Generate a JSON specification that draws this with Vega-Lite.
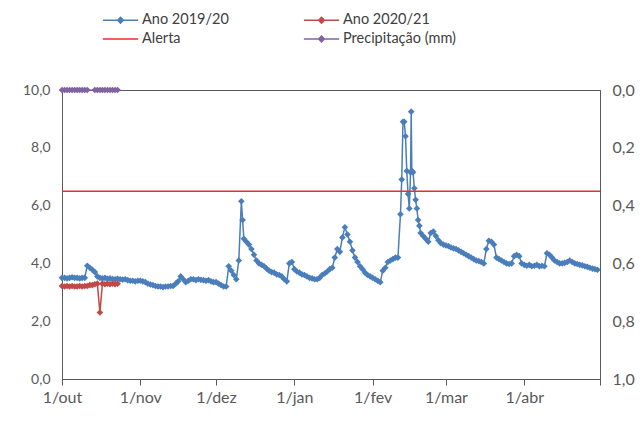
{
  "$schema": "https://vega.github.io/schema/vega-lite/v6.json",
  "width": 538,
  "height": 289,
  "autosize": "none",
  "padding": {"left": 62, "top": 90, "right": 44, "bottom": 48},
  "background": "white",
  "data": {"values": [
    {"d":"2019-10-01","v":3.50,"s":"Ano 2019/20"},{"d":"2019-10-02","v":3.50,"s":"Ano 2019/20"},{"d":"2019-10-03","v":3.48,"s":"Ano 2019/20"},{"d":"2019-10-04","v":3.50,"s":"Ano 2019/20"},{"d":"2019-10-05","v":3.52,"s":"Ano 2019/20"},{"d":"2019-10-06","v":3.50,"s":"Ano 2019/20"},{"d":"2019-10-07","v":3.50,"s":"Ano 2019/20"},{"d":"2019-10-08","v":3.48,"s":"Ano 2019/20"},{"d":"2019-10-09","v":3.50,"s":"Ano 2019/20"},{"d":"2019-10-10","v":3.50,"s":"Ano 2019/20"},
    {"d":"2019-10-11","v":3.92,"s":"Ano 2019/20"},{"d":"2019-10-12","v":3.85,"s":"Ano 2019/20"},{"d":"2019-10-13","v":3.78,"s":"Ano 2019/20"},{"d":"2019-10-14","v":3.70,"s":"Ano 2019/20"},{"d":"2019-10-15","v":3.55,"s":"Ano 2019/20"},{"d":"2019-10-16","v":3.50,"s":"Ano 2019/20"},{"d":"2019-10-17","v":3.48,"s":"Ano 2019/20"},{"d":"2019-10-18","v":3.50,"s":"Ano 2019/20"},{"d":"2019-10-19","v":3.47,"s":"Ano 2019/20"},{"d":"2019-10-20","v":3.48,"s":"Ano 2019/20"},
    {"d":"2019-10-21","v":3.46,"s":"Ano 2019/20"},{"d":"2019-10-22","v":3.45,"s":"Ano 2019/20"},{"d":"2019-10-23","v":3.47,"s":"Ano 2019/20"},{"d":"2019-10-24","v":3.45,"s":"Ano 2019/20"},{"d":"2019-10-25","v":3.44,"s":"Ano 2019/20"},{"d":"2019-10-26","v":3.45,"s":"Ano 2019/20"},{"d":"2019-10-27","v":3.42,"s":"Ano 2019/20"},{"d":"2019-10-28","v":3.40,"s":"Ano 2019/20"},{"d":"2019-10-29","v":3.40,"s":"Ano 2019/20"},{"d":"2019-10-30","v":3.38,"s":"Ano 2019/20"},{"d":"2019-10-31","v":3.40,"s":"Ano 2019/20"},
    {"d":"2019-11-01","v":3.40,"s":"Ano 2019/20"},{"d":"2019-11-02","v":3.38,"s":"Ano 2019/20"},{"d":"2019-11-03","v":3.35,"s":"Ano 2019/20"},{"d":"2019-11-04","v":3.30,"s":"Ano 2019/20"},{"d":"2019-11-05","v":3.27,"s":"Ano 2019/20"},{"d":"2019-11-06","v":3.25,"s":"Ano 2019/20"},{"d":"2019-11-07","v":3.22,"s":"Ano 2019/20"},{"d":"2019-11-08","v":3.20,"s":"Ano 2019/20"},{"d":"2019-11-09","v":3.20,"s":"Ano 2019/20"},{"d":"2019-11-10","v":3.18,"s":"Ano 2019/20"},
    {"d":"2019-11-11","v":3.20,"s":"Ano 2019/20"},{"d":"2019-11-12","v":3.20,"s":"Ano 2019/20"},{"d":"2019-11-13","v":3.22,"s":"Ano 2019/20"},{"d":"2019-11-14","v":3.22,"s":"Ano 2019/20"},{"d":"2019-11-15","v":3.30,"s":"Ano 2019/20"},{"d":"2019-11-16","v":3.38,"s":"Ano 2019/20"},{"d":"2019-11-17","v":3.55,"s":"Ano 2019/20"},{"d":"2019-11-18","v":3.45,"s":"Ano 2019/20"},{"d":"2019-11-19","v":3.35,"s":"Ano 2019/20"},{"d":"2019-11-20","v":3.40,"s":"Ano 2019/20"},
    {"d":"2019-11-21","v":3.45,"s":"Ano 2019/20"},{"d":"2019-11-22","v":3.45,"s":"Ano 2019/20"},{"d":"2019-11-23","v":3.42,"s":"Ano 2019/20"},{"d":"2019-11-24","v":3.45,"s":"Ano 2019/20"},{"d":"2019-11-25","v":3.43,"s":"Ano 2019/20"},{"d":"2019-11-26","v":3.42,"s":"Ano 2019/20"},{"d":"2019-11-27","v":3.40,"s":"Ano 2019/20"},{"d":"2019-11-28","v":3.42,"s":"Ano 2019/20"},{"d":"2019-11-29","v":3.38,"s":"Ano 2019/20"},{"d":"2019-11-30","v":3.35,"s":"Ano 2019/20"},
    {"d":"2019-12-01","v":3.35,"s":"Ano 2019/20"},{"d":"2019-12-02","v":3.30,"s":"Ano 2019/20"},{"d":"2019-12-03","v":3.25,"s":"Ano 2019/20"},{"d":"2019-12-04","v":3.20,"s":"Ano 2019/20"},{"d":"2019-12-05","v":3.20,"s":"Ano 2019/20"},{"d":"2019-12-06","v":3.90,"s":"Ano 2019/20"},{"d":"2019-12-07","v":3.75,"s":"Ano 2019/20"},{"d":"2019-12-08","v":3.60,"s":"Ano 2019/20"},{"d":"2019-12-09","v":3.45,"s":"Ano 2019/20"},{"d":"2019-12-10","v":4.10,"s":"Ano 2019/20"},
    {"d":"2019-12-11","v":6.15,"s":"Ano 2019/20"},{"d":"2019-12-11T12:00Z","v":5.50,"s":"Ano 2019/20"},{"d":"2019-12-12","v":4.85,"s":"Ano 2019/20"},{"d":"2019-12-13","v":4.75,"s":"Ano 2019/20"},{"d":"2019-12-14","v":4.65,"s":"Ano 2019/20"},{"d":"2019-12-15","v":4.50,"s":"Ano 2019/20"},{"d":"2019-12-16","v":4.30,"s":"Ano 2019/20"},{"d":"2019-12-17","v":4.10,"s":"Ano 2019/20"},{"d":"2019-12-18","v":4.00,"s":"Ano 2019/20"},{"d":"2019-12-19","v":3.95,"s":"Ano 2019/20"},{"d":"2019-12-20","v":3.90,"s":"Ano 2019/20"},
    {"d":"2019-12-21","v":3.82,"s":"Ano 2019/20"},{"d":"2019-12-22","v":3.75,"s":"Ano 2019/20"},{"d":"2019-12-23","v":3.70,"s":"Ano 2019/20"},{"d":"2019-12-24","v":3.68,"s":"Ano 2019/20"},{"d":"2019-12-25","v":3.62,"s":"Ano 2019/20"},{"d":"2019-12-26","v":3.60,"s":"Ano 2019/20"},{"d":"2019-12-27","v":3.55,"s":"Ano 2019/20"},{"d":"2019-12-28","v":3.45,"s":"Ano 2019/20"},{"d":"2019-12-29","v":3.38,"s":"Ano 2019/20"},{"d":"2019-12-30","v":4.00,"s":"Ano 2019/20"},{"d":"2019-12-31","v":4.05,"s":"Ano 2019/20"},
    {"d":"2020-01-01","v":3.80,"s":"Ano 2019/20"},{"d":"2020-01-02","v":3.72,"s":"Ano 2019/20"},{"d":"2020-01-03","v":3.68,"s":"Ano 2019/20"},{"d":"2020-01-04","v":3.62,"s":"Ano 2019/20"},{"d":"2020-01-05","v":3.60,"s":"Ano 2019/20"},{"d":"2020-01-06","v":3.55,"s":"Ano 2019/20"},{"d":"2020-01-07","v":3.50,"s":"Ano 2019/20"},{"d":"2020-01-08","v":3.48,"s":"Ano 2019/20"},{"d":"2020-01-09","v":3.45,"s":"Ano 2019/20"},{"d":"2020-01-10","v":3.45,"s":"Ano 2019/20"},
    {"d":"2020-01-11","v":3.50,"s":"Ano 2019/20"},{"d":"2020-01-12","v":3.60,"s":"Ano 2019/20"},{"d":"2020-01-13","v":3.65,"s":"Ano 2019/20"},{"d":"2020-01-14","v":3.72,"s":"Ano 2019/20"},{"d":"2020-01-15","v":3.80,"s":"Ano 2019/20"},{"d":"2020-01-16","v":3.85,"s":"Ano 2019/20"},{"d":"2020-01-17","v":4.20,"s":"Ano 2019/20"},{"d":"2020-01-18","v":4.50,"s":"Ano 2019/20"},{"d":"2020-01-19","v":4.40,"s":"Ano 2019/20"},{"d":"2020-01-20","v":4.90,"s":"Ano 2019/20"},
    {"d":"2020-01-21","v":5.25,"s":"Ano 2019/20"},{"d":"2020-01-22","v":5.00,"s":"Ano 2019/20"},{"d":"2020-01-23","v":4.75,"s":"Ano 2019/20"},{"d":"2020-01-24","v":4.45,"s":"Ano 2019/20"},{"d":"2020-01-25","v":4.20,"s":"Ano 2019/20"},{"d":"2020-01-26","v":4.05,"s":"Ano 2019/20"},{"d":"2020-01-27","v":3.90,"s":"Ano 2019/20"},{"d":"2020-01-28","v":3.80,"s":"Ano 2019/20"},{"d":"2020-01-29","v":3.68,"s":"Ano 2019/20"},{"d":"2020-01-30","v":3.60,"s":"Ano 2019/20"},{"d":"2020-01-31","v":3.55,"s":"Ano 2019/20"},
    {"d":"2020-02-01","v":3.50,"s":"Ano 2019/20"},{"d":"2020-02-02","v":3.45,"s":"Ano 2019/20"},{"d":"2020-02-03","v":3.40,"s":"Ano 2019/20"},{"d":"2020-02-04","v":3.35,"s":"Ano 2019/20"},{"d":"2020-02-05","v":3.75,"s":"Ano 2019/20"},{"d":"2020-02-06","v":3.85,"s":"Ano 2019/20"},{"d":"2020-02-07","v":4.05,"s":"Ano 2019/20"},{"d":"2020-02-08","v":4.10,"s":"Ano 2019/20"},{"d":"2020-02-09","v":4.15,"s":"Ano 2019/20"},{"d":"2020-02-10","v":4.20,"s":"Ano 2019/20"},
    {"d":"2020-02-11","v":4.20,"s":"Ano 2019/20"},{"d":"2020-02-12","v":5.70,"s":"Ano 2019/20"},{"d":"2020-02-12T12:00Z","v":6.90,"s":"Ano 2019/20"},{"d":"2020-02-13","v":8.90,"s":"Ano 2019/20"},{"d":"2020-02-13T12:00Z","v":8.90,"s":"Ano 2019/20"},{"d":"2020-02-14","v":8.40,"s":"Ano 2019/20"},{"d":"2020-02-14T12:00Z","v":7.20,"s":"Ano 2019/20"},{"d":"2020-02-15","v":6.40,"s":"Ano 2019/20"},{"d":"2020-02-15T12:00Z","v":5.90,"s":"Ano 2019/20"},
    {"d":"2020-02-16","v":7.15,"s":"Ano 2019/20"},{"d":"2020-02-16T06:00Z","v":9.25,"s":"Ano 2019/20"},{"d":"2020-02-16T12:00Z","v":7.20,"s":"Ano 2019/20"},{"d":"2020-02-17","v":7.15,"s":"Ano 2019/20"},{"d":"2020-02-17T12:00Z","v":6.60,"s":"Ano 2019/20"},{"d":"2020-02-18","v":6.20,"s":"Ano 2019/20"},{"d":"2020-02-18T12:00Z","v":5.90,"s":"Ano 2019/20"},{"d":"2020-02-19","v":5.50,"s":"Ano 2019/20"},{"d":"2020-02-19T12:00Z","v":5.30,"s":"Ano 2019/20"},
    {"d":"2020-02-20","v":5.05,"s":"Ano 2019/20"},{"d":"2020-02-21","v":4.95,"s":"Ano 2019/20"},{"d":"2020-02-22","v":4.85,"s":"Ano 2019/20"},{"d":"2020-02-23","v":4.75,"s":"Ano 2019/20"},{"d":"2020-02-24","v":5.05,"s":"Ano 2019/20"},{"d":"2020-02-25","v":5.10,"s":"Ano 2019/20"},{"d":"2020-02-26","v":4.95,"s":"Ano 2019/20"},{"d":"2020-02-27","v":4.80,"s":"Ano 2019/20"},{"d":"2020-02-28","v":4.70,"s":"Ano 2019/20"},{"d":"2020-02-29","v":4.65,"s":"Ano 2019/20"},
    {"d":"2020-03-01","v":4.62,"s":"Ano 2019/20"},{"d":"2020-03-02","v":4.60,"s":"Ano 2019/20"},{"d":"2020-03-03","v":4.55,"s":"Ano 2019/20"},{"d":"2020-03-04","v":4.52,"s":"Ano 2019/20"},{"d":"2020-03-05","v":4.50,"s":"Ano 2019/20"},{"d":"2020-03-06","v":4.45,"s":"Ano 2019/20"},{"d":"2020-03-07","v":4.40,"s":"Ano 2019/20"},{"d":"2020-03-08","v":4.35,"s":"Ano 2019/20"},{"d":"2020-03-09","v":4.30,"s":"Ano 2019/20"},{"d":"2020-03-10","v":4.25,"s":"Ano 2019/20"},
    {"d":"2020-03-11","v":4.20,"s":"Ano 2019/20"},{"d":"2020-03-12","v":4.15,"s":"Ano 2019/20"},{"d":"2020-03-13","v":4.10,"s":"Ano 2019/20"},{"d":"2020-03-14","v":4.08,"s":"Ano 2019/20"},{"d":"2020-03-15","v":4.05,"s":"Ano 2019/20"},{"d":"2020-03-16","v":4.00,"s":"Ano 2019/20"},{"d":"2020-03-17","v":4.50,"s":"Ano 2019/20"},{"d":"2020-03-18","v":4.78,"s":"Ano 2019/20"},{"d":"2020-03-19","v":4.75,"s":"Ano 2019/20"},{"d":"2020-03-20","v":4.65,"s":"Ano 2019/20"},
    {"d":"2020-03-21","v":4.20,"s":"Ano 2019/20"},{"d":"2020-03-22","v":4.15,"s":"Ano 2019/20"},{"d":"2020-03-23","v":4.10,"s":"Ano 2019/20"},{"d":"2020-03-24","v":4.05,"s":"Ano 2019/20"},{"d":"2020-03-25","v":4.00,"s":"Ano 2019/20"},{"d":"2020-03-26","v":3.98,"s":"Ano 2019/20"},{"d":"2020-03-27","v":4.00,"s":"Ano 2019/20"},{"d":"2020-03-28","v":4.25,"s":"Ano 2019/20"},{"d":"2020-03-29","v":4.30,"s":"Ano 2019/20"},{"d":"2020-03-30","v":4.25,"s":"Ano 2019/20"},{"d":"2020-03-31","v":4.00,"s":"Ano 2019/20"},
    {"d":"2020-04-01","v":3.95,"s":"Ano 2019/20"},{"d":"2020-04-02","v":3.92,"s":"Ano 2019/20"},{"d":"2020-04-03","v":3.95,"s":"Ano 2019/20"},{"d":"2020-04-04","v":3.90,"s":"Ano 2019/20"},{"d":"2020-04-05","v":3.92,"s":"Ano 2019/20"},{"d":"2020-04-06","v":3.95,"s":"Ano 2019/20"},{"d":"2020-04-07","v":3.90,"s":"Ano 2019/20"},{"d":"2020-04-08","v":3.92,"s":"Ano 2019/20"},{"d":"2020-04-09","v":3.90,"s":"Ano 2019/20"},{"d":"2020-04-10","v":4.35,"s":"Ano 2019/20"},
    {"d":"2020-04-11","v":4.30,"s":"Ano 2019/20"},{"d":"2020-04-12","v":4.20,"s":"Ano 2019/20"},{"d":"2020-04-13","v":4.10,"s":"Ano 2019/20"},{"d":"2020-04-14","v":4.05,"s":"Ano 2019/20"},{"d":"2020-04-15","v":4.00,"s":"Ano 2019/20"},{"d":"2020-04-16","v":4.00,"s":"Ano 2019/20"},{"d":"2020-04-17","v":4.02,"s":"Ano 2019/20"},{"d":"2020-04-18","v":4.05,"s":"Ano 2019/20"},{"d":"2020-04-19","v":4.10,"s":"Ano 2019/20"},{"d":"2020-04-20","v":4.05,"s":"Ano 2019/20"},
    {"d":"2020-04-21","v":4.00,"s":"Ano 2019/20"},{"d":"2020-04-22","v":3.98,"s":"Ano 2019/20"},{"d":"2020-04-23","v":3.95,"s":"Ano 2019/20"},{"d":"2020-04-24","v":3.93,"s":"Ano 2019/20"},{"d":"2020-04-25","v":3.90,"s":"Ano 2019/20"},{"d":"2020-04-26","v":3.88,"s":"Ano 2019/20"},{"d":"2020-04-27","v":3.85,"s":"Ano 2019/20"},{"d":"2020-04-28","v":3.82,"s":"Ano 2019/20"},{"d":"2020-04-29","v":3.80,"s":"Ano 2019/20"},{"d":"2020-04-30","v":3.78,"s":"Ano 2019/20"},
    {"d":"2019-10-01","v":3.22,"s":"Ano 2020/21"},{"d":"2019-10-02","v":3.20,"s":"Ano 2020/21"},{"d":"2019-10-03","v":3.22,"s":"Ano 2020/21"},{"d":"2019-10-04","v":3.20,"s":"Ano 2020/21"},{"d":"2019-10-05","v":3.22,"s":"Ano 2020/21"},{"d":"2019-10-06","v":3.20,"s":"Ano 2020/21"},{"d":"2019-10-07","v":3.20,"s":"Ano 2020/21"},{"d":"2019-10-08","v":3.22,"s":"Ano 2020/21"},{"d":"2019-10-09","v":3.20,"s":"Ano 2020/21"},{"d":"2019-10-10","v":3.22,"s":"Ano 2020/21"},
    {"d":"2019-10-11","v":3.22,"s":"Ano 2020/21"},{"d":"2019-10-12","v":3.25,"s":"Ano 2020/21"},{"d":"2019-10-13","v":3.25,"s":"Ano 2020/21"},{"d":"2019-10-14","v":3.28,"s":"Ano 2020/21"},{"d":"2019-10-15","v":3.30,"s":"Ano 2020/21"},{"d":"2019-10-16","v":2.30,"s":"Ano 2020/21"},{"d":"2019-10-17","v":3.30,"s":"Ano 2020/21"},{"d":"2019-10-18","v":3.28,"s":"Ano 2020/21"},{"d":"2019-10-19","v":3.30,"s":"Ano 2020/21"},{"d":"2019-10-20","v":3.28,"s":"Ano 2020/21"},
    {"d":"2019-10-21","v":3.30,"s":"Ano 2020/21"},{"d":"2019-10-22","v":3.28,"s":"Ano 2020/21"},{"d":"2019-10-23","v":3.30,"s":"Ano 2020/21"},
    {"v":6.5,"s":"Alerta"},
    {"d":"2019-10-01","v":0,"s":"Precipitação (mm)"},{"d":"2019-10-02","v":0,"s":"Precipitação (mm)"},{"d":"2019-10-03","v":0,"s":"Precipitação (mm)"},{"d":"2019-10-04","v":0,"s":"Precipitação (mm)"},{"d":"2019-10-05","v":0,"s":"Precipitação (mm)"},{"d":"2019-10-06","v":0,"s":"Precipitação (mm)"},{"d":"2019-10-07","v":0,"s":"Precipitação (mm)"},{"d":"2019-10-08","v":0,"s":"Precipitação (mm)"},{"d":"2019-10-09","v":0,"s":"Precipitação (mm)"},{"d":"2019-10-10","v":0,"s":"Precipitação (mm)"},{"d":"2019-10-11","v":0,"s":"Precipitação (mm)"},
    {"d":"2019-10-14","v":0,"s":"Precipitação (mm)"},{"d":"2019-10-15","v":0,"s":"Precipitação (mm)"},{"d":"2019-10-16","v":0,"s":"Precipitação (mm)"},{"d":"2019-10-17","v":0,"s":"Precipitação (mm)"},{"d":"2019-10-18","v":0,"s":"Precipitação (mm)"},{"d":"2019-10-19","v":0,"s":"Precipitação (mm)"},{"d":"2019-10-20","v":0,"s":"Precipitação (mm)"},{"d":"2019-10-21","v":0,"s":"Precipitação (mm)"},{"d":"2019-10-22","v":0,"s":"Precipitação (mm)"},{"d":"2019-10-23","v":0,"s":"Precipitação (mm)"}
  ]},
  "layer": [
    {
      "transform": [{"filter": "datum.s === 'Ano 2019/20' || datum.s === 'Ano 2020/21'"}],
      "mark": {"type": "line", "strokeWidth": 1.5, "point": {"shape": "diamond", "filled": true, "size": 44}},
      "encoding": {
        "x": {"field": "d", "type": "temporal",
              "scale": {"type": "utc", "domain": [{"year": 2019, "month": 10, "date": 1, "utc": true}, {"year": 2020, "month": 5, "date": 1, "utc": true}]},
              "axis": {"values": [
                  {"year": 2019, "month": 10, "date": 1, "utc": true}, {"year": 2019, "month": 11, "date": 1, "utc": true},
                  {"year": 2019, "month": 12, "date": 1, "utc": true}, {"year": 2020, "month": 1, "date": 1, "utc": true},
                  {"year": 2020, "month": 2, "date": 1, "utc": true}, {"year": 2020, "month": 3, "date": 1, "utc": true},
                  {"year": 2020, "month": 4, "date": 1, "utc": true}, {"year": 2020, "month": 5, "date": 1, "utc": true}],
                "labelExpr": "utcmonth(datum.value) === 4 ? '' : '1/' + ['jan','fev','mar','abr','mai','jun','jul','ago','set','out','nov','dez'][utcmonth(datum.value)]",
                "tickSize": 6, "labelPadding": 4, "labelFontSize": 16, "title": null, "labelFlush": false, "labelOverlap": false}},
        "y": {"field": "v", "type": "quantitative",
              "scale": {"domain": [0, 10], "nice": false},
              "axis": {"orient": "left", "values": [0, 2, 4, 6, 8, 10], "ticks": false, "labelPadding": 12, "labelFontSize": 14,
                       "labelExpr": "replace(format(datum.value, '.1f'), '.', ',')", "title": null}},
        "color": {"field": "s", "type": "nominal",
                  "scale": {"domain": ["Ano 2019/20", "Ano 2020/21", "Alerta", "Precipitação (mm)"], "range": ["#4a7ebb", "#be4b48", "#ee2c28", "#7f63a1"]},
                  "legend": {
                    "orient": "none", "legendX": 46.5, "legendY": -82, "columns": 2, "direction": "horizontal", "title": null,
                    "labelFont": "Lato", "labelFontSize": 14.5, "labelColor": "#404040", "labelLimit": 300, "labelOffset": 9.5,
                    "symbolSize": 484, "symbolStrokeWidth": 1.5, "symbolOpacity": 1,
                    "columnPadding": 71, "rowPadding": 0,
                    "values": ["Ano 2019/20", "Ano 2020/21", "Alerta", "Precipitação (mm)"],
                    "encode": {"symbols": {"update": {
                      "shape": {"signal": "datum.value === 'Alerta' ? 'M-1.6,0H1.6' : 'M-1.6,0H1.6M0,-0.26L0.26,0L0,0.26L-0.26,0Z'"},
                      "fill": {"signal": "datum.value === 'Alerta' ? 'transparent' : scale('color', datum.value)"},
                      "stroke": {"signal": "scale('color', datum.value)"}
                    }}}
                  }}
      }
    },
    {
      "transform": [{"filter": "datum.s === 'Alerta'"}],
      "mark": {"type": "rule", "strokeWidth": 1.5},
      "encoding": {
        "y": {"field": "v", "type": "quantitative", "scale": {"domain": [0, 10], "nice": false}, "axis": null},
        "color": {"field": "s", "type": "nominal",
                  "scale": {"domain": ["Ano 2019/20", "Ano 2020/21", "Alerta", "Precipitação (mm)"], "range": ["#4a7ebb", "#be4b48", "#ee2c28", "#7f63a1"]}}
      }
    },
    {
      "transform": [{"filter": "datum.s === 'Precipitação (mm)'"}],
      "mark": {"type": "line", "strokeWidth": 1.2, "point": {"shape": "diamond", "filled": true, "size": 44}},
      "encoding": {
        "x": {"field": "d", "type": "temporal",
              "scale": {"type": "utc", "domain": [{"year": 2019, "month": 10, "date": 1, "utc": true}, {"year": 2020, "month": 5, "date": 1, "utc": true}]}},
        "y": {"field": "v", "type": "quantitative",
              "scale": {"domain": [0, 1], "reverse": true, "nice": false, "zero": false},
              "axis": {"orient": "right", "values": [0, 0.2, 0.4, 0.6, 0.8, 1], "ticks": false, "labelPadding": 12, "labelFontSize": 16,
                       "labelExpr": "replace(format(datum.value, '.1f'), '.', ',')", "title": null}},
        "color": {"field": "s", "type": "nominal",
                  "scale": {"domain": ["Ano 2019/20", "Ano 2020/21", "Alerta", "Precipitação (mm)"], "range": ["#4a7ebb", "#be4b48", "#ee2c28", "#7f63a1"]}}
      }
    }
  ],
  "resolve": {"scale": {"y": "independent"}},
  "config": {
    "view": {"stroke": "#595959", "strokeWidth": 1},
    "axis": {"grid": false, "domainColor": "#595959", "tickColor": "#595959", "labelColor": "#595959", "labelFont": "Lato"}
  }
}
